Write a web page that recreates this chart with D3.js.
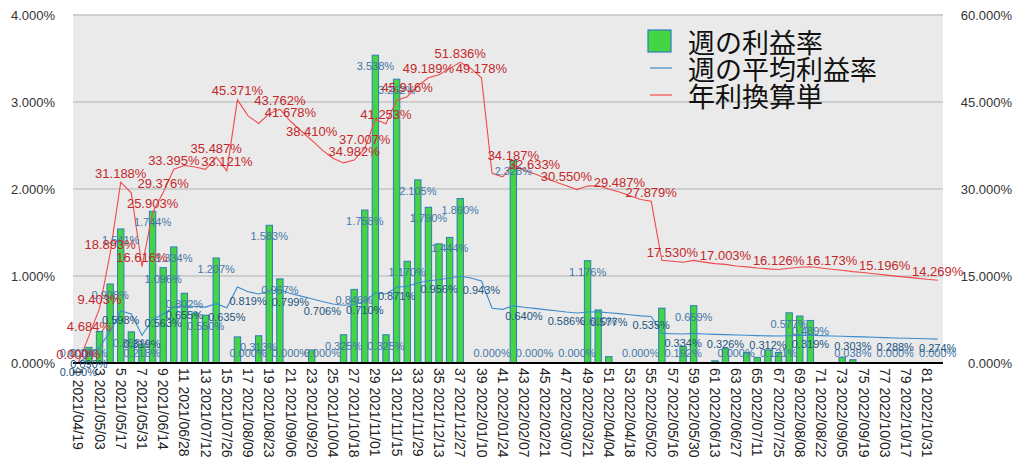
<!DOCTYPE html>
<html><head><meta charset="utf-8">
<script src="https://cdn.jsdelivr.net/npm/d3@7"></script>
<style>body{margin:0;background:#fff}svg{display:block}</style>
</head><body>
<svg id="c" width="1024" height="472"></svg>
<script>
// ---- data ----
const weeks = d3.range(1, 83);
const tickLabels = ["1 2021/04/19","3 2021/05/03","5 2021/05/17","7 2021/05/31","9 2021/06/14","11 2021/06/28","13 2021/07/12","15 2021/07/26","17 2021/08/09","19 2021/08/23","21 2021/09/06","23 2021/09/20","25 2021/10/04","27 2021/10/18","29 2021/11/01","31 2021/11/15","33 2021/11/29","35 2021/12/13","37 2021/12/27","39 2022/01/10","41 2022/01/24","43 2022/02/07","45 2022/02/21","47 2022/03/07","49 2022/03/21","51 2022/04/04","53 2022/04/18","55 2022/05/02","57 2022/05/16","59 2022/05/30","61 2022/06/13","63 2022/06/27","65 2022/07/11","67 2022/07/25","69 2022/08/08","71 2022/08/22","73 2022/09/05","75 2022/09/19","77 2022/10/03","79 2022/10/17","81 2022/10/31"];
const weeklyRate = [0,0.180,0.362,0.908,1.541,0.358,0.218,1.744,1.096,1.334,
  0.802,0.575,0.550,1.207,0,0.300,0,0.313,1.583,0.967,
  0,0,0.150,0,0,0.325,0.846,1.758,3.538,0.325,
  3.262,1.170,2.105,1.790,1.370,1.444,1.890,0,0,0,
  0,2.328,0,0,0,0,0,0,1.176,0.610,
  0.073,0,0,0,0,0.630,0,0.192,0.659,0,
  0.025,0.165,0,0.120,0.065,0.150,0.121,0.577,0.540,0.489,
  0,0,0.065,0.038,0,0,0,0,0,0,
  0,0];
const avgRate = [0,0.090,0.181,0.363,0.598,0.563,0.319,0.498,0.563,0.642,
  0.655,0.650,0.642,0.682,0.635,0.873,0.819,0.794,0.827,0.842,
  0.799,0.769,0.739,0.706,0.679,0.663,0.673,0.710,0.808,0.793,
  0.871,0.883,0.919,0.946,0.956,0.977,0.997,0.977,0.943,0.629,
  0.617,0.657,0.640,0.628,0.613,0.600,0.586,0.575,0.587,0.588,
  0.577,0.567,0.555,0.542,0.535,0.340,0.337,0.334,0.340,0.334,
  0.329,0.326,0.322,0.319,0.315,0.312,0.310,0.314,0.317,0.319,
  0.315,0.311,0.308,0.303,0.300,0.296,0.292,0.288,0.285,0.281,
  0.278,0.274];
const annualRate = [0,4.684,9.403,18.893,31.188,29.3,16.616,25.903,29.376,33.395,
  34.06,33.8,33.4,35.487,33.121,45.371,42.6,41.3,43.0,43.762,
  41.678,40.0,38.410,36.7,35.3,34.5,34.982,37.007,42.0,41.253,
  45.3,45.916,47.8,49.189,49.7,50.8,51.836,50.8,49.178,32.7,
  32.1,34.187,33.28,32.633,31.9,31.2,30.550,29.9,30.5,30.55,
  30.0,29.487,28.84,28.2,27.879,17.7,17.530,17.37,17.69,17.39,
  17.13,17.003,16.73,16.57,16.37,16.23,16.126,16.33,16.5,16.6,
  16.38,16.173,16.0,15.76,15.6,15.39,15.196,14.98,14.81,14.63,
  14.45,14.269];
const barLabelWeeks = [1,2,4,5,6,7,8,9,10,11,13,14,17,18,19,20,21,24,26,27,28,29,30,31,32,33,34,36,37,40,42,44,48,49,50,54,58,59,63,67,68,70,74,78,82];
const avgLabelWeeks = [1,2,5,7,9,11,15,17,21,24,28,31,35,39,43,47,51,55,58,62,66,70,74,78,82];
const annualLabelWeeks = [1,2,3,4,5,7,8,9,10,14,15,16,20,21,23,27,28,30,32,34,37,39,42,44,47,52,55,57,62,67,72,77,82];
const seriesNames = ["週の利益率","週の平均利益率","年利換算単"];
const leftTicks = [0,1,2,3,4];
const rightTicks = [0,15,30,45,60];

// ---- drawing ----
const svg = d3.select("#c");
const L = 73, R = 943, T = 15, B = 363;
const x = d3.scaleBand().domain(weeks).range([L, R]).paddingInner(0.4).paddingOuter(0.2);
const yL = d3.scaleLinear().domain([0, 4]).range([B, T]);
const yR = d3.scaleLinear().domain([0, 60]).range([B, T]);
const cx = w => x(w) + x.bandwidth() / 2;
const pct = d => d3.format(".3f")(d) + "%";
const numFont = "'Liberation Sans', Arial, Helvetica, sans-serif";

svg.append("rect").attr("x", L).attr("y", T).attr("width", R - L).attr("height", B - T).attr("fill", "#eaeaea");

svg.append("g").selectAll("line").data(leftTicks.filter(d => d > 0)).join("line")
  .attr("x1", L).attr("x2", R).attr("y1", d => yL(d)).attr("y2", d => yL(d))
  .attr("stroke", "#c4c4c4").attr("stroke-width", 1.3);

const gl = svg.append("g").attr("transform", `translate(${L},0)`)
  .call(d3.axisLeft(yL).tickValues(leftTicks).tickFormat(pct).tickSize(0).tickPadding(18));
gl.select(".domain").remove();
gl.selectAll("text").attr("font-family", numFont).attr("font-size", 13).attr("fill", "#333");

const gr = svg.append("g").attr("transform", `translate(${R},0)`)
  .call(d3.axisRight(yR).tickValues(rightTicks).tickFormat(pct).tickSize(0));
gr.select(".domain").remove();
gr.selectAll("text").attr("font-family", numFont).attr("font-size", 13).attr("fill", "#333")
  .attr("text-anchor", "end").attr("x", 1012 - R);

// bars
svg.append("g").selectAll("rect").data(weeks).join("rect")
  .attr("x", w => x(w)).attr("width", x.bandwidth())
  .attr("y", w => yL(weeklyRate[w - 1])).attr("height", w => B - yL(weeklyRate[w - 1]))
  .attr("fill", "#44d444").attr("stroke", "#2f7db8").attr("stroke-width", 1);

// lines
svg.append("path").datum(weeks)
  .attr("d", d3.line().x(cx).y(w => yL(avgRate[w - 1])))
  .attr("fill", "none").attr("stroke", "#3d8bcd").attr("stroke-width", 1.1);
svg.append("path").datum(weeks)
  .attr("d", d3.line().x(cx).y(w => yR(annualRate[w - 1])))
  .attr("fill", "none").attr("stroke", "#f24a4a").attr("stroke-width", 1.1);

// baseline
svg.append("line").attr("x1", L).attr("x2", R).attr("y1", B).attr("y2", B).attr("stroke", "#000").attr("stroke-width", 2);

// x axis labels
const gx = svg.append("g").attr("transform", `translate(0,${B})`)
  .call(d3.axisBottom(x).tickValues(tickLabels.map(s => parseInt(s))).tickFormat(w => tickLabels.find(s => parseInt(s) === w)).tickSize(0));
gx.select(".domain").remove();
gx.selectAll("text").attr("font-family", numFont).attr("font-size", 14).attr("fill", "#222")
  .attr("text-anchor", "start").attr("transform", "rotate(90)").attr("x", 5).attr("y", 0).attr("dy", "0.35em");

// data labels
svg.append("g").selectAll("text").data(barLabelWeeks).join("text")
  .attr("x", cx).attr("y", w => Math.min(yL(weeklyRate[w - 1]) + 11, B - 10))
  .attr("text-anchor", "middle").attr("dominant-baseline", "central")
  .attr("font-family", numFont).attr("font-size", 11).attr("fill", "#4677a6")
  .text(w => pct(weeklyRate[w - 1]));
svg.append("g").selectAll("text").data(avgLabelWeeks).join("text")
  .attr("x", cx).attr("y", w => yL(avgRate[w - 1]) + 9)
  .attr("text-anchor", "middle").attr("dominant-baseline", "central")
  .attr("font-family", numFont).attr("font-size", 11).attr("fill", "#23557f")
  .text(w => pct(avgRate[w - 1]));
svg.append("g").selectAll("text").data(annualLabelWeeks).join("text")
  .attr("x", cx).attr("y", w => yR(annualRate[w - 1]) - 9)
  .attr("text-anchor", "middle").attr("dominant-baseline", "central")
  .attr("font-family", numFont).attr("font-size", 13).attr("fill", "#c4282b")
  .text(w => pct(annualRate[w - 1]));

// legend
const lg = svg.append("g");
const rowY = [41, 68, 95];
lg.append("rect").attr("x", 648).attr("y", rowY[0] - 11).attr("width", 23).attr("height", 22)
  .attr("fill", "#44d444").attr("stroke", "#2f7db8").attr("stroke-width", 1.2);
lg.append("line").attr("x1", 650).attr("x2", 672).attr("y1", rowY[1]).attr("y2", rowY[1]).attr("stroke", "#3d8bcd").attr("stroke-width", 1.2);
lg.append("line").attr("x1", 650).attr("x2", 672).attr("y1", rowY[2]).attr("y2", rowY[2]).attr("stroke", "#f24a4a").attr("stroke-width", 1.2);
lg.selectAll("text").data(seriesNames).join("text")
  .attr("x", 688).attr("y", (d, i) => rowY[i]).attr("dominant-baseline", "central")
  .attr("font-family", "'Noto Sans CJK JP', sans-serif").attr("font-size", 27).attr("fill", "#111")
  .text(d => d);
</script>
</body></html>
